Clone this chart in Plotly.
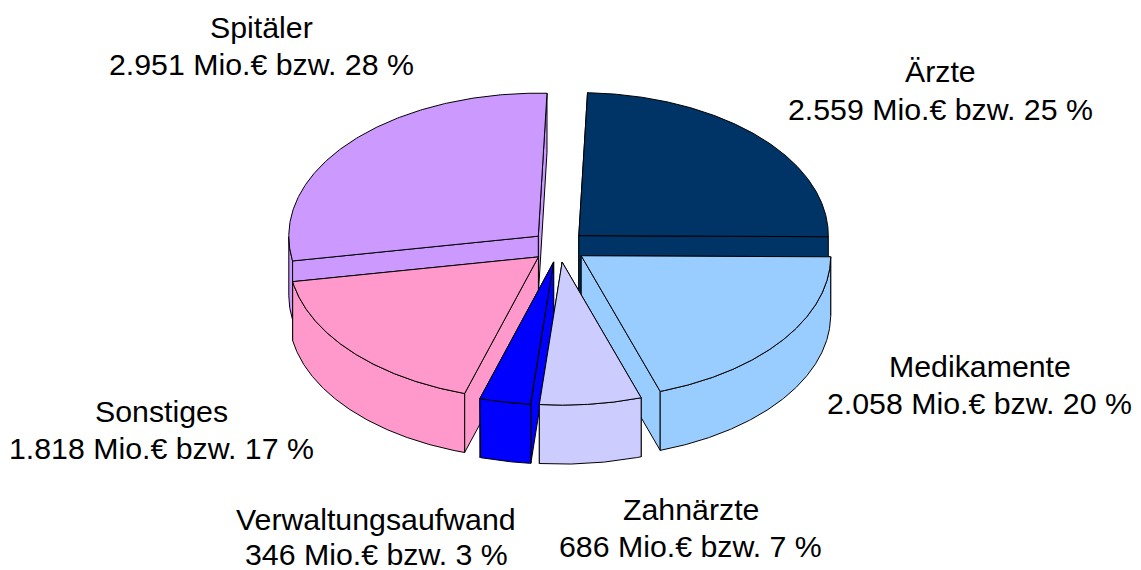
import numpy as np
import plotly.graph_objects as go

categories = ["Ärzte", "Medikamente", "Zahnärzte", "Verwaltungsaufwand", "Sonstiges", "Spitäler"]
values_mio = [2559, 2058, 686, 346, 1818, 2951]
percents = [25, 20, 7, 3, 17, 28]
colors = ["#003366", "#99CCFF", "#CCCCFF", "#0000FF", "#FF99CC", "#CC99FF"]

# back-to-front painting order (indices into categories)
paint_order = [5, 0, 4, 1, 3, 2]

# projection of the tilted pie, in axis units
CX, CY = 559.0, 246.5
RX, RY = 249.5, 143.0
DEPTH = 59.0
EXPLODE = 0.11
START = 88.0

# label anchors: (x centre, y of first line, y of second line)
label_pos = [
    (940.5, 71, 109),
    (979.5, 366, 403),
    (690.5, 509, 546),
    (376, 519, 554),
    (161.5, 411, 448),
    (261, 27, 64),
]

total = sum(values_mio)
sweeps = [v / total * 360 for v in values_mio]
slices = []
a = START
for s in sweeps:
    slices.append((a, a - s))
    a -= s


def pt(cx, cy, deg):
    r = np.radians(deg)
    return cx + RX * np.cos(r), cy - RY * np.sin(r)


fig = go.Figure()


def poly(xs, ys, color):
    fig.add_trace(go.Scatter(
        x=list(xs) + [xs[0]], y=list(ys) + [ys[0]], mode="lines", fill="toself",
        fillcolor=color, line=dict(color="black", width=1),
        hoverinfo="skip", showlegend=False,
    ))


for i in paint_order:
    a0, a1 = slices[i]
    mid = np.radians((a0 + a1) / 2)
    cx = CX + EXPLODE * RX * np.cos(mid)
    cy = CY - EXPLODE * RY * np.sin(mid)
    col = colors[i]

    # cut faces, farther one first
    for edge in sorted((a0, a1), key=lambda d: -np.sin(np.radians(d))):
        ex, ey = pt(cx, cy, edge)
        poly([cx, ex, ex, cx], [cy, ey, ey + DEPTH, cy + DEPTH], col)

    # outer rim: only the part of the arc facing the viewer
    angs = np.linspace(a0, a1, 200)
    front = angs[np.sin(np.radians(angs)) <= 0]
    if front.size > 1:
        fx, fy = pt(cx, cy, front)
        poly(list(fx) + list(fx[::-1]), list(fy) + list(fy[::-1] + DEPTH), col)

    # top face
    tx, ty = pt(cx, cy, angs)
    poly([cx] + list(tx), [cy] + list(ty), col)

annotations = []
for name, v, p, (x, y1, y2) in zip(categories, values_mio, percents, label_pos):
    line2 = f"{v:,}".replace(",", ".") + f" Mio.€ bzw. {p} %"
    for txt, y in ((name, y1), (line2, y2)):
        annotations.append(dict(
            x=x, y=y, xref="x", yref="y", text=txt, showarrow=False,
            xanchor="center", yanchor="middle",
            font=dict(family="Liberation Sans, Arial, sans-serif", size=30.3, color="black"),
        ))

fig.update_layout(
    width=1141, height=570, margin=dict(l=0, r=0, t=0, b=0),
    paper_bgcolor="white", plot_bgcolor="white", showlegend=False,
    xaxis=dict(range=[0, 1141], visible=False, fixedrange=True),
    yaxis=dict(range=[570, 0], visible=False, fixedrange=True),
    annotations=annotations,
)
fig.write_html("out.html", config=dict(displayModeBar=False),
               post_script="document.body.style.margin='0';document.documentElement.style.overflow='hidden';")
